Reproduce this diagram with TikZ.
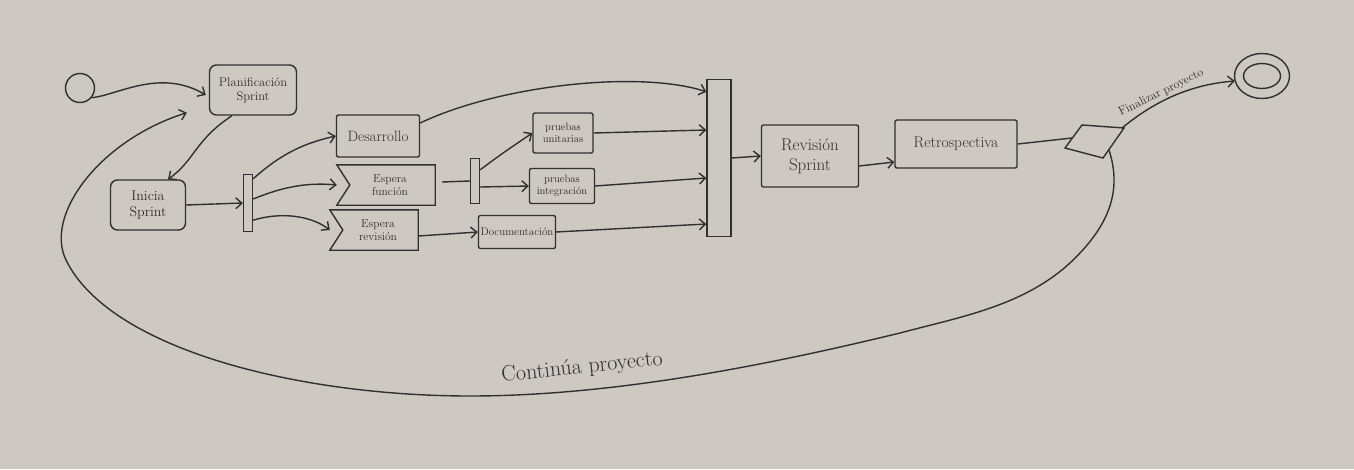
\documentclass[tikz,border=0pt]{standalone}
\usetikzlibrary{arrows.meta,calc,shapes.geometric}
\definecolor{board}{HTML}{CDC8C1}
\definecolor{ink}{HTML}{303030}
\begin{document}
\begin{tikzpicture}[x=1pt,y=-1pt,
  every node/.style={inner sep=0pt, text=ink, align=center},
  ln/.style={draw=ink, line width=1.4pt},
  arr/.style={ln, -{Straight Barb[length=6pt,width=11pt]}},
  box/.style={ln, rectangle, rounded corners=2pt},
  rbox/.style={ln, rectangle, rounded corners=7pt},
  bar/.style={ln, rectangle},
  fs/.style={font=\fontsize{#1pt}{1.15\dimexpr#1pt\relax}\selectfont},
]
\fill[board] (0,0) rectangle (1354,469);
\useasboundingbox (0,0) rectangle (1354,469);

% nodes
\node[ln,circle,minimum size=29pt] (ini) at (80,88) {};
\node[rbox,minimum width=87pt,minimum height=50pt,fs=12.5] (plan) at (253,90) {Planificación\\Sprint};
\node[rbox,minimum width=75pt,minimum height=50pt,fs=14] (inicia) at (148,205) {Inicia\\Sprint};
\node[bar,minimum width=9pt,minimum height=57pt] (fork1) at (248,203) {};
\node[box,minimum width=83pt,minimum height=42pt,fs=15] (des) at (378,136) {Desarrollo};
\node[minimum width=98pt,minimum height=40pt,fs=11.5] (espf) at (386,185) {\hspace*{8pt}Espera\\\hspace*{8pt}función};
\draw[ln] (espf.north west) -- (espf.north east) -- (espf.south east) -- (espf.south west) -- ($(espf.west)+(13,0)$) -- cycle;
\node[minimum width=88pt,minimum height=40pt,fs=11.5] (espr) at (374,230) {\hspace*{8pt}Espera\\\hspace*{8pt}revisión};
\draw[ln] (espr.north west) -- (espr.north east) -- (espr.south east) -- (espr.south west) -- ($(espr.west)+(13,0)$) -- cycle;
\node[bar,minimum width=9pt,minimum height=45pt] (fork2) at (475,181) {};
\node[box,minimum width=60pt,minimum height=40pt,fs=10.5] (pu) at (563,133) {pruebas\\unitarias};
\node[box,minimum width=65pt,minimum height=35pt,fs=10.5] (pi) at (562,186) {pruebas\\integración};
\node[box,minimum width=77pt,minimum height=33pt,fs=11] (doc) at (517,232) {Documentación};
\node[bar,minimum width=24pt,minimum height=157pt] (join) at (719,158) {};
\node[box,minimum width=97pt,minimum height=62pt,fs=17] (rev) at (810,156) {Revisión\\Sprint};
\node[box,minimum width=122pt,minimum height=48pt,fs=15.5] (retro) at (956,144) {Retrospectiva};
\node[minimum width=60pt,minimum height=34pt] (dec) at (1094,140) {};
\draw[ln] ($(dec)+(-12,-15)$) -- ($(dec)+(30,-12)$) -- ($(dec)+(9,18)$) -- ($(dec)+(-29,8)$) -- cycle;
\node[ln,ellipse,minimum width=55pt,minimum height=45pt] (fin) at (1262,76) {};
\node[ln,ellipse,minimum width=37pt,minimum height=25pt] (finin) at (fin) {};

% connectors
\draw[arr] (ini.-40) .. controls (118,95) and (160,68) .. ($(plan.west)+(-3,5)$);
\draw[arr] ($(plan.south)+(-21,0)$) .. controls (195,140) and (195,160) .. ($(inicia.north)+(20,0)$);
\draw[arr] (inicia.east) -- (fork1.west);
\draw[arr] ($(fork1.north east)+(0,5)$) .. controls (285,150) and (310,142) .. (des.west);
\draw[arr] ($(fork1.east)+(0,-4)$) .. controls (280,188) and (305,182) .. (espf.west);
\draw[arr] ($(fork1.south east)+(0,-12)$) .. controls (280,212) and (310,215) .. (espr.west);
\draw[ln] ($(espf.east)+(7,-3)$) -- (fork2.west);
\draw[arr] ($(fork2.north east)+(0,12)$) .. controls (500,155) .. (pu.west);
\draw[arr] ($(fork2.east)+(0,6)$) -- (pi.west);
\draw[arr] ($(espr.east)+(0,6)$) -- (doc.west);
\draw[arr] ($(des.east)+(0,-13)$) .. controls (500,85) and (640,70) .. ($(join.north west)+(0,13)$);
\draw[arr] (pu.east) -- ($(join.west)+(0,-28)$);
\draw[arr] (pi.east) -- ($(join.west)+(0,20)$);
\draw[arr] (doc.east) -- ($(join.west)+(0,66)$);
\draw[arr] (join.east) -- (rev.west);
\draw[arr] ($(rev.east)+(0,10)$) -- ($(retro.west)+(0,18)$);
\draw[ln] (retro.east) -- ($(dec)+(-22,-2)$);
\draw[arr] ($(dec)+(28,-12)$) .. controls (1150,105) and (1185,85) .. ($(fin.west)+(1,5)$)
  node[sloped, above=2pt, pos=0.45, fs=12] (lblf) {Finalizar proyecto};
\draw[arr] ($(dec)+(15,10)$) .. controls (1122,190) and (1110,225) .. (1071,262)
  .. controls (1024,306) and (960,317) .. (900,333)
  .. controls (780,362) and (620,396) .. (470,396)
  .. controls (300,396) and (110,350) .. (66,260)
  .. controls (44,215) and (100,140) .. ($(plan.south west)+(-22,-3)$);
\node[fs=22, rotate=6] (lblc) at (582,368) {Continúa proyecto};
\end{tikzpicture}
\end{document}
